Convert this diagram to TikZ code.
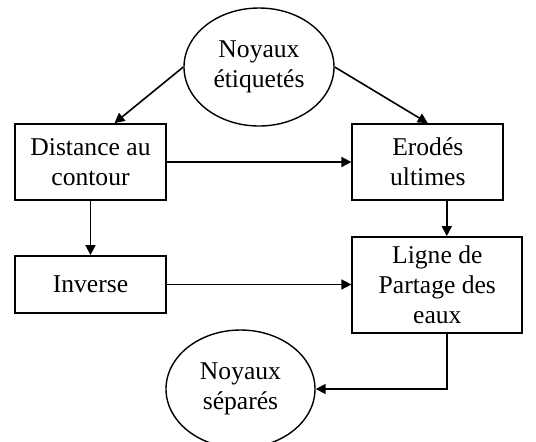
\documentclass[tikz,border=0pt]{standalone}
\usepackage{fontspec}
\setmainfont{Liberation Serif}
\usetikzlibrary{shapes.geometric, arrows.meta}

\begin{document}
\begin{tikzpicture}[x=0.5pt,y=-0.5pt,
    box/.style={draw,line width=0.9pt,minimum width=75.5pt,minimum
    height=38pt,align=center,inner sep=1pt},
    oval/.style={draw,ellipse,line width=0.7pt,minimum width=75pt,minimum
    height=59pt,align=center,inner sep=0pt},
    arj/.style={line width=0.8pt,-{Triangle[length=5pt,width=5pt]}},
    font=\fontsize{12.8}{15}\selectfont]
  \useasboundingbox (0,0) rectangle (536,441);
  \clip (0,0) rectangle (536,441);
  % nodes
  \node(noyet)[oval] at (259,67) {Noyaux\\étiquetés};
  \node(dist)[box] at (90.5,162) {Distance au\\contour};
  \node(erod)[box] at (427.8,162) {Erodés\\ultimes};
  \node(inv)[box,minimum height=28.5pt] at (90.5,284.5) {Inverse};
  \node(lpe)[box,minimum width=85pt,minimum height=48pt] at (437.3,285)
    {Ligne de\\Partage des\\eaux};
  \node(noysep)[oval,minimum width=74.5pt] at (240.5,389) {Noyaux\\séparés};
  % connectors
  \draw[arj] (noyet.west) -- ([xshift=12pt]dist.north);
  \draw[arj] (noyet.east) -- (erod.north);
  \draw[arj] (dist.east) -- (erod.west);
  \draw[arj] (dist.south) -- (inv.north);
  \draw[arj] (inv.east) -- (inv.east -| lpe.west);
  \draw[arj] ([xshift=9.5pt]erod.south) -- ([xshift=9.5pt]erod.south |- lpe.north);
  \draw[arj] ([xshift=4.7pt]lpe.south) |- (noysep.east);
\end{tikzpicture}
\end{document}
